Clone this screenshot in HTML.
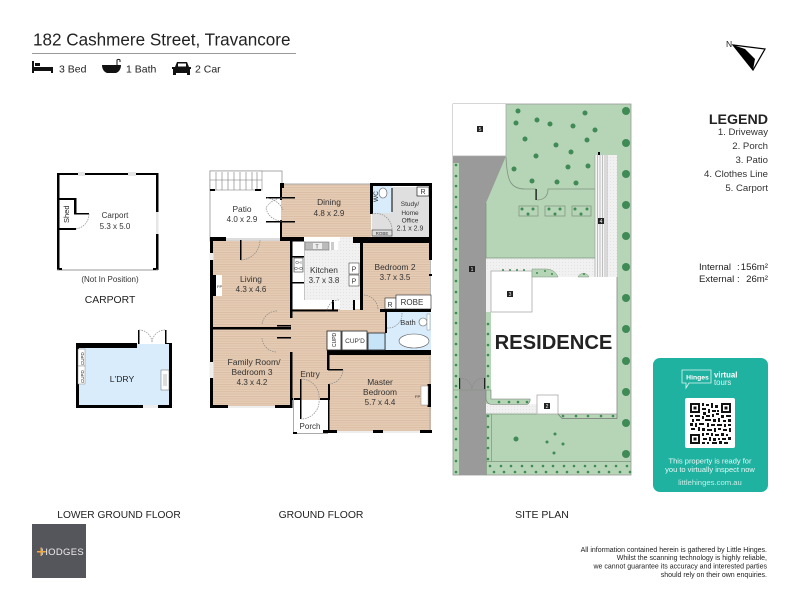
<!DOCTYPE html>
<html><head><meta charset="utf-8"><style>
html,body{margin:0;padding:0;background:#fff}
svg{display:block}
text{font-family:"Liberation Sans",Arial,sans-serif;fill:#222}
.w{fill:#000}
.d{fill:none;stroke:#888;stroke-width:.7;stroke-dasharray:1.5 1}
.l{font-size:8px;text-anchor:middle;fill:#333}
.t{font-size:10.5px;fill:#222}
.r{font-size:9.6px;text-anchor:end;fill:#333}
</style></head><body>
<svg width="800" height="600" viewBox="0 0 800 600" xmlns="http://www.w3.org/2000/svg">
<defs>
<pattern id="wood" width="3" height="2.4" patternUnits="userSpaceOnUse"><rect width="3" height="2.4" fill="#e6ccb4"/><rect width="3" height=".8" fill="#d8bca2"/></pattern>
<pattern id="tile" width="3" height="3" patternUnits="userSpaceOnUse"><rect width="3" height="3" fill="#f1f1f1"/><rect x="1" y="1" width="1" height="1" fill="#e3e3e3"/></pattern>
</defs>
<rect width="800" height="600" fill="#fff"/>

<!-- header -->
<text x="33" y="45.500" style="font-size:17.100px" fill="#111">182 Cashmere Street, Travancore</text>
<rect x="32" y="53" width="264" height="1" fill="#999"/>
<path d="M32 61h2v6h19v6h-2v-2H34v2h-2zM35 63h5v3h-5z" fill="#111"/>
<text x="59" y="72.500" class="t">3 Bed</text>
<path d="M102 65h19c0 4-2 7-5 8h-9c-3-1-5-4-5-8z" fill="#111"/><path d="M117 65v-5a2 2 0 0 1 3 0v2" fill="none" stroke="#111"/>
<text x="126" y="72.500" class="t">1 Bath</text>
<path d="M172 67h3l2-5h10l2 5h2v2h-1v6h-3v-2h-11v2h-3v-6h-1z" fill="#111"/><rect x="178" y="63.500" width="8" height="3" fill="#fff"/>
<text x="195" y="72.500" class="t">2 Car</text>

<!-- north -->
<text x="726" y="47" style="font-size:8.500px">N</text>
<path d="M733 45L765 49L753 70Z" fill="#fff" stroke="#000" stroke-width="1.200"/>
<path d="M733 45L753 70L755 59L745 49Z" fill="#000"/>

<!-- legend -->
<text x="768" y="124" text-anchor="end" style="font-size:14.200px;font-weight:bold" fill="#111">LEGEND</text>
<text x="768" y="135" class="r">1. Driveway</text>
<text x="768" y="149" class="r">2. Porch</text>
<text x="768" y="163" class="r">3. Patio</text>
<text x="768" y="177" class="r">4. Clothes Line</text>
<text x="768" y="191" class="r">5. Carport</text>
<g style="font-size:9.600px" fill="#333">
<text x="699" y="270">Internal</text><text x="737" y="270">:</text><text x="768" y="270" text-anchor="end">156m²</text>
<text x="699" y="282">External</text><text x="737" y="282">:</text><text x="768" y="282" text-anchor="end">26m²</text>
</g>

<!-- carport -->
<rect x="58" y="174" width="99" height="96" fill="#fff"/>
<path d="M57 173h101.500v39h-2.500v-37H59.500v95H57zM156 234h2.500v36H156z" class="w"/>
<rect x="78" y="172" width="7" height="4" fill="#e6e6e6"/><rect x="128" y="172" width="8" height="4" fill="#e6e6e6"/>
<rect x="156" y="212" width="2.500" height="22" fill="#e6e6e6"/>
<rect x="57" y="269.500" width="101" height="1" fill="#999"/>
<rect x="59" y="268" width="3" height="2" class="w"/><rect x="153" y="268" width="3" height="2" class="w"/>
<path d="M58 198h18v2H58zM74 198h2.500v16H74zM74 213h15v1.500H74zM58 228h18v2H58z" class="w"/>
<path d="M89 214a15 15 0 0 1-14 15" class="d"/>
<text transform="translate(69,223) rotate(-90)" style="font-size:7.500px" fill="#333">Shed</text>
<text x="115" y="218" class="l">Carport</text><text x="115" y="229" class="l">5.3 x 5.0</text>
<text x="110" y="282" class="l" style="font-size:8px">(Not In Position)</text>
<text x="110" y="303" style="font-size:10.400px;text-anchor:middle">CARPORT</text>

<!-- laundry -->
<rect x="76" y="344" width="96" height="64" fill="#d8ecfb"/>
<path d="M76 343h61v5H79v57h64v3H76zM158 405h11v-61h-4v-1h7v65h-14z" class="w"/>
<rect x="143" y="405" width="15" height="3" fill="#eee"/>
<path d="M138 330h1.500v14H138zM165 330h1.500v14H165z" class="w"/>
<path d="M139 330a13 13 0 0 1 13 13M165 330a13 13 0 0 0-13 13" class="d"/>
<rect x="78" y="349" width="7" height="17" fill="#fff" stroke="#888" stroke-width=".5"/><rect x="78" y="366" width="7" height="18" fill="#fff" stroke="#888" stroke-width=".5"/>
<text transform="translate(84,365) rotate(-90)" style="font-size:4.500px">CUPD</text>
<text transform="translate(84,383) rotate(-90)" style="font-size:4.500px">CUPD</text>
<rect x="161" y="370" width="8" height="20" fill="#fff" stroke="#666" stroke-width=".5"/><rect x="163" y="374" width="4" height="12" fill="#ddd"/>
<text x="122" y="382" style="font-size:8.600px;text-anchor:middle" fill="#333">L'DRY</text>

<!-- ground floor fills -->
<rect x="210" y="171" width="72" height="70" fill="#fff" stroke="#aaa" stroke-width="1"/>
<rect x="210" y="171" width="52" height="19" fill="#fff" stroke="#888" stroke-width=".6"/>
<path d="M216 172v18M222 172v18M228 172v18M234 172v18M240 172v18M246 172v18M252 172v18M257 172v18M210 180h52" stroke="#777" stroke-width=".6" fill="none"/>
<rect x="210" y="189" width="5" height="2" class="w"/><rect x="255" y="189" width="6" height="2" class="w"/>
<rect x="281" y="184" width="90" height="53" fill="url(#wood)"/>
<rect x="212" y="241" width="79" height="166" fill="url(#wood)"/>
<path d="M291 309h95v44h-58v47h-37z" fill="url(#wood)"/>
<rect x="361" y="243" width="70" height="67" fill="url(#wood)"/>
<rect x="328" y="355" width="103" height="77" fill="url(#wood)"/>
<rect x="304" y="237" width="56" height="63" fill="url(#tile)"/>
<rect x="340" y="296" width="13" height="14" fill="url(#tile)"/>
<rect x="372" y="187" width="59" height="50" fill="#dfdfdf"/>
<rect x="372" y="185" width="20" height="28" fill="#d8ecfb"/>
<rect x="386" y="312" width="45" height="38" fill="#d8ecfb"/>
<rect x="293" y="400" width="34" height="34" fill="#fff"/>

<!-- ground floor walls -->
<rect x="282" y="183.500" width="88" height="1" fill="#aaa"/>
<rect x="226" y="238" width="54" height="2" fill="#ddd"/>
<rect x="304" y="241" width=".8" height="59" fill="#bbb"/>
<rect x="429.500" y="356" width="1" height="76" fill="#aaa"/>
<rect x="430" y="243" width="1" height="66" fill="#bbb"/>
<path class="w" d="M280 183h4v5h-4zM370 183h62v3h-62zM429 183h3v55h-3zM370 183h3v31h-3zM391.500 188h1v24h-1zM210 237h16v4h-16zM280 237h24v4h-24zM353 237h79v6h-79zM360 241h3v69h-3zM210 240h3v168h-3zM210 405h18v3h-18zM275 405h16v3h-16zM290 240h2.500v78h-2.500zM290 352h2.500v56h-2.500zM212 327h79v2.500h-79zM292 309.500h46v2h-46zM292 240h12v1.500h-12zM292 256h12v1.500h-12zM292 282h12v1.500h-12zM332 300h2v10h-2zM353 300h2v10h-2zM380 309h51v3h-51zM385 312h2v21h-2zM327 350h104v5h-104zM327 355h2.500v15h-2.500zM328 384h2v16h-2zM292 398h8v2h-8zM320 398h10v2h-10zM328 400h1.500v33h-1.500zM323 430h14v3h-14zM373 430h10v3h-10zM420 430h12v3h-12zM427.500 384h3.500v23h-3.500zM429 243h3v17h-3zM429 274h3v2h-3z"/>
<path d="M240 240h1.500v20h-1.500zM266 197h14v1.500h-14zM266 221h14v1.500h-14zM282 197h13v1.500h-13zM282 221h13v1.500h-13zM280 188h2v12h-2zM280 220h2v18h-2z" class="w"/>
<rect x="293" y="398" width="1" height="36" fill="#aaa"/><rect x="293" y="433" width="35" height="1" fill="#aaa"/>
<rect x="293" y="432" width="4" height="2" class="w"/>
<rect x="300" y="379" width="1.500" height="40" class="w"/>
<rect x="328" y="369" width="15" height="1.500" class="w"/>
<rect x="277" y="325" width="14" height="1.500" class="w"/><rect x="277" y="337" width="14" height="1.500" class="w"/>
<path d="M241 260a20 20 0 0 0 19-20M282 198a20 20 0 0 0-16 10a16 16 0 0 0 16 13M267 198a20 20 0 0 1 16 12M277 311a15 15 0 0 0 -15 14M276 352a15 15 0 0 1 -14-14M301 379a18 18 0 0 1 18 20a18 18 0 0 1-18 20M343 370a15 15 0 0 1-14 14M339 300a12 12 0 0 0-12 12M387 328a14 14 0 0 0 15-15M372 214a16 16 0 0 1 20 16M364 295a15 15 0 0 1 14 15" class="d"/>
<!-- windows -->
<rect x="228" y="406" width="47" height="2" fill="#eee"/>
<rect x="337" y="431" width="36" height="2" fill="#eee"/><rect x="383" y="431" width="37" height="2" fill="#eee"/>
<rect x="209.500" y="362" width="4" height="16" fill="#eee"/>
<rect x="209.500" y="253" width="4" height="7" fill="#eee"/>

<!-- labels -->
<text x="329" y="205" class="l" style="font-size:8.400px">Dining</text><text x="329" y="216" class="l">4.8 x 2.9</text>
<text x="242" y="212" class="l" style="font-size:8.400px">Patio</text><text x="242" y="222" class="l">4.0 x 2.9</text>
<text x="251" y="282" class="l" style="font-size:8.400px">Living</text><text x="251" y="292" class="l">4.3 x 4.6</text>
<rect x="214" y="275" width="8" height="21" fill="#fff"/><rect x="210" y="275" width="6" height="21" class="w"/><text x="217" y="288" style="font-size:4px">FP</text>
<text x="324" y="273" class="l" style="font-size:8.400px">Kitchen</text><text x="324" y="283" class="l">3.7 x 3.8</text>
<text x="395" y="270" class="l" style="font-size:8.400px">Bedroom 2</text><text x="395" y="280" class="l">3.7 x 3.5</text>
<text x="254" y="365" class="l" style="font-size:8.600px">Family Room/</text><text x="252" y="375" class="l" style="font-size:8.400px">Bedroom 3</text><text x="252" y="385" class="l">4.3 x 4.2</text>
<text x="310" y="377" class="l" style="font-size:8.400px">Entry</text>
<text x="380" y="385" class="l" style="font-size:8.400px">Master</text><text x="380" y="395" class="l" style="font-size:8.400px">Bedroom</text><text x="380" y="405" class="l">5.7 x 4.4</text>
<text x="310" y="429" class="l">Porch</text>
<text x="410" y="206" class="l" style="font-size:6.500px">Study/</text><text x="410" y="215" class="l" style="font-size:6.500px">Home</text><text x="410" y="222.500" class="l" style="font-size:6.500px">Office</text><text x="410" y="230.500" class="l" style="font-size:7px">2.1 x 2.9</text>
<rect x="417" y="187" width="12" height="9" fill="#fff" stroke="#000" stroke-width=".6"/><text x="423" y="194" class="l" style="font-size:7px">R</text>
<text transform="translate(378,202) rotate(-90)" style="font-size:6.500px">WC</text>
<ellipse cx="383" cy="193" rx="4" ry="5" fill="#fff" stroke="#555" stroke-width=".6"/>
<rect x="372" y="230" width="20" height="6" fill="#ddd" stroke="#333" stroke-width=".6"/><text x="382" y="235" class="l" style="font-size:4.500px">ROBE</text>
<!-- kitchen fittings -->
<rect x="304" y="237" width="36" height="4" fill="#fff"/>
<rect x="305" y="241" width="33" height="9" fill="#fff"/>
<rect x="305" y="242" width="24" height="8" fill="#bbb" stroke="#777" stroke-width=".6"/><rect x="313" y="243" width="9" height="6" fill="#eee"/><text x="317" y="248.500" class="l" style="font-size:5px">T</text>
<rect x="331" y="242" width="3" height="8" fill="#ccc"/>
<rect x="294" y="258" width="9" height="14" fill="#fff" stroke="#333" stroke-width=".6"/><text x="298.500" y="264" class="l" style="font-size:4.500px">O-I</text><text x="298.500" y="270" class="l" style="font-size:4.500px">O-O</text>
<rect x="349" y="263" width="10" height="11" fill="#fff" stroke="#222" stroke-width=".5"/><text x="354" y="271.500" class="l" style="font-size:7px">P</text>
<rect x="349" y="275" width="10" height="11" fill="#fff" stroke="#222" stroke-width=".5"/><text x="354" y="283.500" class="l" style="font-size:7px">P</text>
<rect x="385" y="298" width="11" height="11" fill="#fff" stroke="#222" stroke-width=".6"/><text x="390" y="307" class="l" style="font-size:7px">R</text>
<rect x="396" y="295" width="35" height="14" fill="#fff" stroke="#222" stroke-width=".6"/><text x="412" y="305" class="l">ROBE</text>
<!-- cupboards / bath -->
<rect x="327" y="331" width="14" height="19" fill="#fff" stroke="#222" stroke-width=".8"/><text transform="translate(336,347) rotate(-90)" style="font-size:5px">CUPD</text>
<rect x="342" y="331" width="25" height="19" fill="#fff" stroke="#222" stroke-width=".8"/><text x="355" y="343" class="l" style="font-size:6.500px">CUP'D</text>
<rect x="368" y="333" width="17" height="17" fill="#c6e3f7" stroke="#222" stroke-width=".8"/>
<ellipse cx="414" cy="341" rx="15" ry="7" fill="#fff" stroke="#555" stroke-width=".6"/>
<text x="408" y="325" class="l" style="font-size:7.500px">Bath</text>
<circle cx="423" cy="322" r="4" fill="#fff" stroke="#555" stroke-width=".6"/>
<rect x="427" y="314" width="3" height="16" fill="#fff" stroke="#888" stroke-width=".5"/>
<rect x="421" y="386" width="7" height="19" fill="#fff" stroke="#888" stroke-width=".5"/>
<text x="415" y="398" style="font-size:4px">FP</text>

<!-- site plan -->
<rect x="453" y="104" width="178" height="371" fill="#b6d4b6" stroke="#999" stroke-width=".8"/>
<path d="M453 156h53L486 203V475H459V163h-6z" fill="#9a9a9a"/>
<rect x="453" y="104" width="53" height="52" fill="#fff"/><path d="M506 104v52H453" fill="none" stroke="#aaa" stroke-width=".8"/>
<path d="M486 258h109v19H486z" fill="url(#tile)"/>
<rect x="595" y="155" width="22" height="122" fill="url(#tile)"/>
<rect x="486" y="271" width="5" height="41" fill="#f0f0f0"/>
<path d="M491 277H617V414H491z" fill="#fff"/>
<rect x="486" y="404" width="51" height="10" fill="url(#tile)"/>
<path d="M486 390v9a6 6 0 0 0 6 5.500h35a5 5 0 0 0 3-5.500H491v-9z" fill="#b6d4b6" stroke="#777" stroke-width=".6"/>
<rect x="491" y="271" width="41" height="41" fill="#fff" stroke="#aaa" stroke-width=".8"/>
<rect x="537" y="395" width="21" height="19" fill="#fff" stroke="#aaa" stroke-width=".8"/>
<path d="M617 414V277" fill="none" stroke="#888" stroke-width=".8"/>
<path d="M558 414l4 4.500h55v-4.500" fill="none" stroke="#777" stroke-width=".7"/>
<path d="M558 414h59" stroke="#999" stroke-width=".7"/>
<path d="M486.500 475v-61h50M491.500 414v47.500M486 461.500h145" fill="none" stroke="#7f937f" stroke-width=".7"/>
<path d="M532 277v-8h14a12 12 0 0 1 12 8zM578 277a6 6 0 0 1 11 0z" fill="#b6d4b6" stroke="#7f937f" stroke-width=".5"/>
<path d="M486 258h109M486 203v55" fill="none" stroke="#7f937f" stroke-width=".8"/>
<path d="M506 157C507 180 510 189 525 189H536" fill="none" stroke="#7f937f" stroke-width=".8"/>
<path d="M537 200C544 200 548 196 548 189H595" fill="none" stroke="#7f937f" stroke-width=".8"/>
<rect x="535.500" y="189" width="1.200" height="11" class="w"/>
<path d="M519 206h19v10h-19zM545 206h20v10h-20zM572 206h19v10h-19z" fill="none" stroke="#7f937f" stroke-width=".7"/>
<!-- clothes line -->
<rect x="595" y="155" width="12" height="122" fill="#f5f5f5"/>
<path d="M595 155v122M597.500 155v122M600 155v122M602.500 155v122M605 155v122M607 155v122" stroke="#999" stroke-width=".6"/>
<rect x="598" y="152" width="2" height="3" class="w"/>
<!-- trees -->
<g fill="#3f8a55">
<circle cx="518" cy="111" r="2.500"/><circle cx="585" cy="113" r="2.500"/><circle cx="516" cy="123" r="2.500"/><circle cx="537" cy="120" r="2.500"/><circle cx="550" cy="124" r="2.500"/><circle cx="573" cy="126" r="2.500"/><circle cx="595" cy="130" r="2.500"/><circle cx="525" cy="139" r="2.500"/><circle cx="587" cy="140" r="2.500"/><circle cx="556" cy="145" r="2.500"/><circle cx="571" cy="152" r="2.500"/><circle cx="536" cy="156" r="2.500"/><circle cx="514" cy="169" r="2.500"/><circle cx="568" cy="167" r="2.500"/><circle cx="588" cy="166" r="2.500"/><circle cx="532" cy="181" r="2.500"/><circle cx="557" cy="182" r="2.500"/><circle cx="576" cy="183" r="2.500"/>
<circle cx="626" cy="111" r="4"/><circle cx="626" cy="143" r="4"/><circle cx="626" cy="174" r="4"/><circle cx="626" cy="205" r="4"/><circle cx="626" cy="236" r="4"/><circle cx="626" cy="267" r="4"/><circle cx="626" cy="298" r="4"/><circle cx="626" cy="329" r="4"/><circle cx="626" cy="361" r="4"/><circle cx="626" cy="392" r="4"/><circle cx="626" cy="423" r="4"/><circle cx="626" cy="454" r="4"/>
<circle cx="516" cy="439" r="2.500"/><circle cx="555" cy="434" r="1.500"/><circle cx="547" cy="442" r="1.500"/><circle cx="563" cy="444" r="1.500"/><circle cx="554" cy="453" r="1.500"/>
<circle cx="522" cy="209" r="1.500"/><circle cx="533" cy="209" r="1.500"/><circle cx="528" cy="214" r="1.500"/><circle cx="549" cy="209" r="1.500"/><circle cx="560" cy="209" r="1.500"/><circle cx="555" cy="214" r="1.500"/><circle cx="575" cy="209" r="1.500"/><circle cx="587" cy="209" r="1.500"/><circle cx="581" cy="214" r="1.500"/>
</g>
<g fill="#3f8a55">
<circle cx="456" cy="165" r="1.300"/><circle cx="456" cy="176" r="1.300"/><circle cx="456" cy="186" r="1.300"/><circle cx="456" cy="197" r="1.300"/><circle cx="456" cy="207" r="1.300"/><circle cx="456" cy="218" r="1.300"/><circle cx="456" cy="228" r="1.300"/><circle cx="456" cy="239" r="1.300"/><circle cx="456" cy="249" r="1.300"/><circle cx="456" cy="260" r="1.300"/><circle cx="456" cy="270" r="1.300"/><circle cx="456" cy="281" r="1.300"/><circle cx="456" cy="292" r="1.300"/><circle cx="456" cy="302" r="1.300"/><circle cx="456" cy="313" r="1.300"/><circle cx="456" cy="323" r="1.300"/><circle cx="456" cy="334" r="1.300"/><circle cx="456" cy="344" r="1.300"/><circle cx="456" cy="355" r="1.300"/><circle cx="456" cy="365" r="1.300"/><circle cx="456" cy="376" r="1.300"/><circle cx="456" cy="386" r="1.300"/><circle cx="456" cy="397" r="1.300"/><circle cx="456" cy="408" r="1.300"/><circle cx="456" cy="418" r="1.300"/><circle cx="456" cy="429" r="1.300"/><circle cx="456" cy="439" r="1.300"/><circle cx="456" cy="450" r="1.300"/><circle cx="456" cy="461" r="1.300"/><circle cx="456" cy="472" r="1.300"/>
<circle cx="488" cy="324" r="1.300"/><circle cx="488" cy="334" r="1.300"/><circle cx="488" cy="345" r="1.300"/><circle cx="488" cy="355" r="1.300"/><circle cx="488" cy="366" r="1.300"/><circle cx="488" cy="376" r="1.300"/><circle cx="488" cy="387" r="1.300"/>
<circle cx="488" cy="416" r="1.300"/><circle cx="488" cy="427" r="1.300"/><circle cx="488" cy="438" r="1.300"/><circle cx="488" cy="448" r="1.300"/><circle cx="488" cy="459" r="1.300"/>
<circle cx="499" cy="402" r="1.300"/><circle cx="509" cy="402" r="1.300"/><circle cx="518" cy="402" r="1.300"/><circle cx="527" cy="402" r="1.300"/>
<circle cx="563" cy="416" r="1.300"/><circle cx="576" cy="416" r="1.300"/><circle cx="588" cy="416" r="1.300"/><circle cx="601" cy="416" r="1.300"/><circle cx="613" cy="416" r="1.300"/>
<circle cx="490" cy="466" r="1.300"/><circle cx="501" cy="466" r="1.300"/><circle cx="511" cy="466" r="1.300"/><circle cx="522" cy="466" r="1.300"/><circle cx="532" cy="466" r="1.300"/><circle cx="543" cy="466" r="1.300"/><circle cx="553" cy="466" r="1.300"/><circle cx="564" cy="466" r="1.300"/><circle cx="574" cy="466" r="1.300"/><circle cx="585" cy="466" r="1.300"/><circle cx="595" cy="466" r="1.300"/><circle cx="606" cy="466" r="1.300"/><circle cx="616" cy="466" r="1.300"/><circle cx="627" cy="466" r="1.300"/>
<circle cx="494" cy="472" r="1.300"/><circle cx="504" cy="472" r="1.300"/><circle cx="515" cy="472" r="1.300"/><circle cx="525" cy="472" r="1.300"/><circle cx="536" cy="472" r="1.300"/><circle cx="546" cy="472" r="1.300"/><circle cx="557" cy="472" r="1.300"/><circle cx="567" cy="472" r="1.300"/><circle cx="578" cy="472" r="1.300"/><circle cx="588" cy="472" r="1.300"/><circle cx="599" cy="472" r="1.300"/><circle cx="609" cy="472" r="1.300"/><circle cx="620" cy="472" r="1.300"/><circle cx="630" cy="472" r="1.300"/>
<circle cx="503" cy="270" r="1"/><circle cx="510" cy="270" r="1"/><circle cx="517" cy="270" r="1"/><circle cx="524" cy="270" r="1"/><circle cx="537" cy="273" r="1"/><circle cx="545" cy="271" r="1"/><circle cx="552" cy="274" r="1"/><circle cx="584" cy="274" r="1"/>
</g>
<!-- gate -->
<path d="M459 378h1.200v11H459zM484 378h1.200v11H484z" fill="#222"/>
<path d="M460 378a12 12 0 0 1 12 11a12 12 0 0 1 12-11" class="d"/>
<path d="M453 390h33" stroke="#7f937f" stroke-width=".6"/>
<!-- site labels -->
<g>
<rect x="477" y="126" width="6" height="6" fill="#222"/>
<rect x="469" y="266" width="6" height="6" fill="#222"/>
<rect x="598" y="218" width="6" height="6" fill="#222"/>
<rect x="507" y="291" width="6" height="6" fill="#222"/>
<rect x="544" y="403" width="6" height="6" fill="#222"/>
</g>
<g style="font-size:5px;text-anchor:middle">
<text x="480" y="131" style="fill:#fff">5</text><text x="472" y="271" style="fill:#fff">1</text><text x="601" y="223" style="fill:#fff">4</text><text x="510" y="296" style="fill:#fff">3</text><text x="547" y="408" style="fill:#fff">2</text>
</g>
<text x="553.500" y="349" style="font-size:20.200px;font-weight:bold;text-anchor:middle" fill="#000">RESIDENCE</text>

<!-- card -->
<rect x="653" y="358" width="115" height="134" rx="7" fill="#1fb2a1"/>
<path d="M682 370h29v13h-22l-3 5v-5h-4z" fill="none" stroke="#dff5f1" stroke-width=".8"/>
<text x="697.500" y="379.500" style="font-size:6.800px;font-weight:bold;text-anchor:middle;fill:#fff">Hinges</text>
<text x="714" y="377.500" style="font-size:7.800px;font-weight:bold;fill:#fff">virtual</text>
<text x="714" y="385" style="font-size:7.800px;fill:#dff5f1">tours</text>
<rect x="685" y="398" width="50" height="50" rx="2" fill="#fff"/>
<path fill="#111" d="M690 403h10v10h-10zM721 403h10v10h-10zM690 434h10v10h-10zM702 403h2v3h-2zM706 404h3v2h-3zM711 403h2v5h-2zM715 405h3v3h-3zM702 408h4v2h-4zM708 409h2v4h-2zM712 410h4v2h-4zM717 410h2v2h-2zM703 412h3v3h-3zM712 414h2v3h-2zM716 413h3v2h-3zM690 415h3v2h-3zM695 415h5v2h-5zM702 416h2v3h-2zM706 415h4v2h-4zM721 415h3v3h-3zM726 415h5v2h-5zM692 419h2v3h-2zM696 419h4v2h-4zM705 419h6v2h-6zM713 419h3v3h-3zM718 418h2v4h-2zM723 420h3v2h-3zM728 419h3v3h-3zM690 423h3v3h-3zM695 423h2v4h-2zM699 423h5v2h-5zM707 423h2v4h-2zM711 424h4v2h-4zM717 424h5v2h-5zM724 424h2v3h-2zM728 424h3v2h-3zM691 428h4v2h-4zM698 427h2v4h-2zM702 428h3v3h-3zM707 429h5v2h-5zM714 428h2v4h-2zM718 428h3v2h-3zM723 429h4v2h-4zM729 428h2v4h-2zM702 433h2v3h-2zM706 433h3v2h-3zM711 433h2v3h-2zM715 434h4v2h-4zM721 433h3v3h-3zM726 434h2v2h-2zM703 438h4v2h-4zM709 437h2v4h-2zM713 438h3v3h-3zM718 438h2v2h-2zM722 438h4v2h-4zM728 437h3v3h-3zM702 442h3v2h-3zM707 442h2v2h-2zM712 442h5v2h-5zM719 441h3v3h-3zM724 442h4v2h-4z"/>
<path fill="#fff" d="M692 405h6v6h-6zM723 405h6v6h-6zM692 436h6v6h-6z"/>
<path fill="#111" d="M693.500 406.500h3v3h-3zM724.500 406.500h3v3h-3zM693.500 437.500h3v3h-3z"/>
<text x="710" y="463.500" style="font-size:7.500px;text-anchor:middle;fill:#e6f8f5">This property is ready for</text>
<text x="710" y="472" style="font-size:7.500px;text-anchor:middle;fill:#e6f8f5">you to virtually inspect now</text>
<text x="710" y="485" style="font-size:7.700px;text-anchor:middle;fill:#c6ece6">littlehinges.com.au</text>

<!-- footer labels -->
<text x="119" y="518" style="font-size:10.200px;text-anchor:middle">LOWER GROUND FLOOR</text>
<text x="321" y="518" style="font-size:10.400px;text-anchor:middle">GROUND FLOOR</text>
<text x="542" y="518" style="font-size:10.500px;text-anchor:middle">SITE PLAN</text>
<rect x="32" y="524" width="54" height="54" fill="#55555c"/>
<text x="41" y="555" style="font-size:9.500px;fill:#eee;letter-spacing:.3px">HODGES</text>
<rect x="37" y="551" width="8" height="1.500" fill="#f2a93b"/><rect x="40.500" y="547.500" width="1.500" height="8.500" fill="#f2a93b"/>
<g style="font-size:7px;text-anchor:end" fill="#333">
<text x="767" y="552">All information contained herein is gathered by Little Hinges.</text>
<text x="767" y="560">Whilst the scanning technology is highly reliable,</text>
<text x="767" y="568.500">we cannot guarantee its accuracy and interested parties</text>
<text x="767" y="577">should rely on their own enquiries.</text>
</g>
</svg>
</body></html>
